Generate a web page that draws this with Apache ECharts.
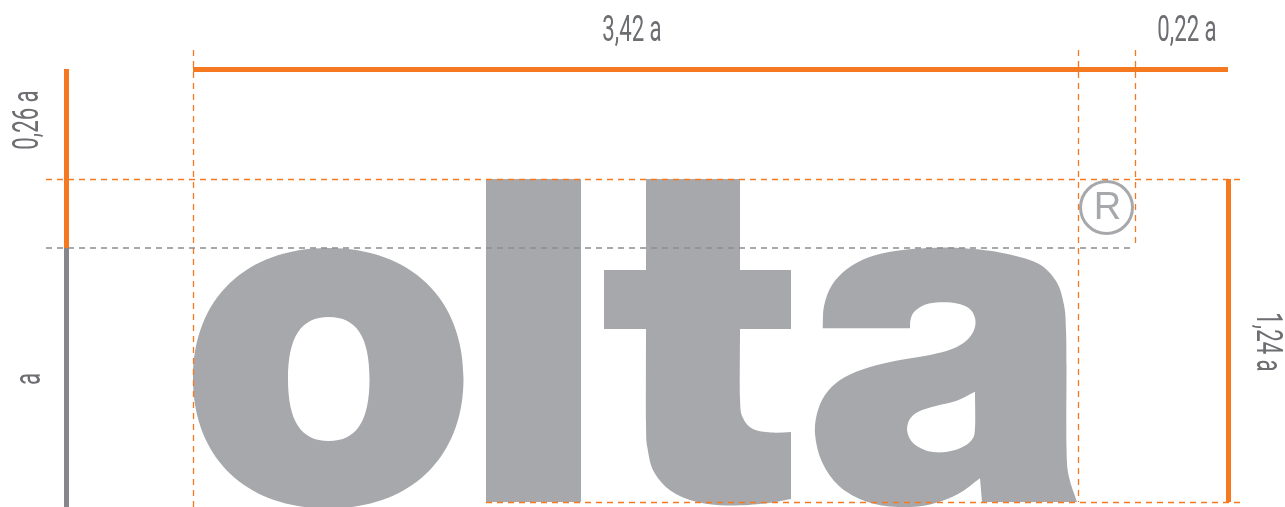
<!DOCTYPE html>
<html><head><meta charset="utf-8">
<script src="https://cdn.jsdelivr.net/npm/echarts@6/dist/echarts.min.js"></script>
<style>html,body{margin:0;padding:0;background:#fff}#c{width:1285px;height:507px}</style>
</head><body><div id="c"></div>
<script>
// ---- dimension labels ----
const dimLabels = ['3,42 a', '0,22 a', '0,26 a', 'a', '1,24 a'];
const dimLabelAt = [[632, 31.5], [1187, 31.5], [28.5, 120], [31, 379], [1266, 342]];
const dimLabelTurn = [0, 0, 90, 90, -90];

// ---- construction lines (segments in drawing units) ----
const solidOrange = [[[193, 69], [1228, 69]], [[66, 69], [66, 248]], [[1228, 179], [1228, 502]]];
const solidGray = [[[66, 248], [66, 507]]];
const dashedOrange = [[[46, 179], [1245, 179]], [[486, 502], [1245, 502]],
  [[193, 50], [193, 507]], [[1078, 50], [1078, 502]], [[1135, 50], [1135, 248]]];
const dashedGray = [[[46, 248], [1135, 248]]];

// ---- registered mark ----
const regMark = { text: 'R', center: [1106.5, 207.5], radius: 26 };

// ---- glyph "o": outer and inner oval boxes [left, top, right, bottom] ----
const glyphOOuter = [193, 248, 463.5, 508.5];
const glyphOInner = [288, 317, 369.5, 441];

// ---- glyph outlines [x, y, sharpCorner] ----
const glyphL = [[[486, 179, 1], [581, 179, 1], [581, 502, 1], [486, 502, 1]]];
const glyphT = [[[646, 179, 1], [740, 179, 1], [740, 270, 1], [791, 270, 1], [791, 329, 1], [740, 329, 1],
  [740, 398, 0], [743, 418, 0], [753, 429, 0], [771, 432.5, 0], [791, 432, 1], [791, 499, 1],
  [765, 503.5, 0], [728, 505.5, 0], [697, 502, 0], [671, 491, 0], [654, 472, 0], [647.5, 448, 0], [646, 422, 0],
  [646, 329, 1], [604, 329, 1], [604, 270, 1], [646, 270, 1]]];
const glyphA = [
  [[822.7, 328.3, 1], [824, 306, 0], [832, 285, 0], [847, 269, 0], [868, 257.5, 0], [895, 251, 0],
   [928, 248, 0], [960, 248, 0], [1000, 252.5, 0], [1037, 263, 0], [1056, 281, 0], [1064, 305, 0],
   [1066, 330, 0], [1066.5, 365, 0], [1066.5, 448, 0], [1069, 477, 0], [1077, 502, 1], [982, 502, 1], [980, 478.3, 1],
   [958, 494, 0], [930, 504.5, 0], [898, 507, 0], [866, 501.5, 0], [839, 486, 0], [822, 462, 0],
   [815, 434, 0], [818, 410, 0], [828, 391, 0], [845, 377, 0], [870, 367, 0], [900, 360, 0],
   [930, 355, 0], [952, 349, 0], [966, 341, 0], [974, 330, 0], [975, 318, 0], [968, 307.5, 0],
   [951, 302.5, 0], [929, 303.5, 0], [915.5, 310.5, 0], [910.7, 319, 0], [910, 328.3, 1]],
  [[975, 391.7, 1], [956.7, 400.7, 0], [936.7, 405.7, 0], [918.3, 411.7, 0], [909.3, 420, 0], [907.3, 431.7, 0],
   [913.3, 443.3, 0], [926.7, 450.7, 0], [943.3, 452.3, 0], [960, 448.3, 0], [971.7, 440, 0], [975, 428, 0]]
];

const ORANGE = '#f47920', GRAYLOGO = '#a7a8ab', TEXT = '#6d6e71';

function f(v) { return v.toFixed(2); }
function contourPath(pts, api) {
  const P = pts.map(p => api.coord([p[0], p[1]]));
  const n = P.length;
  let d = 'M' + f(P[0][0]) + ' ' + f(P[0][1]);
  for (let i = 0; i < n; i++) {
    const a = P[i], b = P[(i + 1) % n], prev = P[(i - 1 + n) % n], next = P[(i + 2) % n];
    const sa = pts[i][2], sb = pts[(i + 1) % n][2];
    if (sa && sb) { d += ' L' + f(b[0]) + ' ' + f(b[1]); continue; }
    const c1 = sa ? [a[0] + (b[0] - a[0]) / 3, a[1] + (b[1] - a[1]) / 3]
                  : [a[0] + (b[0] - prev[0]) / 6, a[1] + (b[1] - prev[1]) / 6];
    const c2 = sb ? [b[0] - (b[0] - a[0]) / 3, b[1] - (b[1] - a[1]) / 3]
                  : [b[0] - (next[0] - a[0]) / 6, b[1] - (next[1] - a[1]) / 6];
    d += ' C' + [c1[0], c1[1], c2[0], c2[1], b[0], b[1]].map(f).join(' ');
  }
  return d + ' Z';
}
// oval (superellipse-like) through box edges; k = control handle ratio; ccw for holes
function ovalPath(box, k, ccw, api) {
  const p0 = api.coord([box[0], box[1]]), p1 = api.coord([box[2], box[3]]);
  const cx = (p0[0] + p1[0]) / 2, cy = (p0[1] + p1[1]) / 2;
  const rx = Math.abs(p1[0] - p0[0]) / 2, ry = Math.abs(p1[1] - p0[1]) / 2;
  const kx = rx * k, ky = ry * k;
  if (!ccw) {
    return 'M' + f(cx) + ' ' + f(cy - ry) +
      ' C' + [cx + kx, cy - ry, cx + rx, cy - ky, cx + rx, cy].map(f).join(' ') +
      ' C' + [cx + rx, cy + ky, cx + kx, cy + ry, cx, cy + ry].map(f).join(' ') +
      ' C' + [cx - kx, cy + ry, cx - rx, cy + ky, cx - rx, cy].map(f).join(' ') +
      ' C' + [cx - rx, cy - ky, cx - kx, cy - ry, cx, cy - ry].map(f).join(' ') + ' Z';
  }
  return 'M' + f(cx) + ' ' + f(cy - ry) +
    ' C' + [cx - kx, cy - ry, cx - rx, cy - ky, cx - rx, cy].map(f).join(' ') +
    ' C' + [cx - rx, cy + ky, cx - kx, cy + ry, cx, cy + ry].map(f).join(' ') +
    ' C' + [cx + kx, cy + ry, cx + rx, cy + ky, cx + rx, cy].map(f).join(' ') +
    ' C' + [cx + rx, cy - ky, cx + kx, cy - ry, cx, cy - ry].map(f).join(' ') + ' Z';
}

const glyphBuilders = [
  api => ovalPath(glyphOOuter, 0.61, false, api) + ' ' + ovalPath(glyphOInner, 0.68, true, api),
  api => glyphL.map(c => contourPath(c, api)).join(' '),
  api => glyphT.map(c => contourPath(c, api)).join(' '),
  api => glyphA.map(c => contourPath(c, api)).join(' ')
];

const chart = echarts.init(document.getElementById('c'), null, { renderer: 'canvas' });
const lineSeries = (segs, color, width, type) => ({
  type: 'lines', coordinateSystem: 'cartesian2d', silent: true,
  data: segs.map(s => ({ coords: s })),
  lineStyle: { color: color, width: width, type: type, opacity: 1, curveness: 0, cap: 'butt' },
  effect: { show: false }
});

chart.setOption({
  animation: false,
  backgroundColor: '#ffffff',
  grid: { left: 0, right: 0, top: 0, bottom: 0, containLabel: false },
  xAxis: { type: 'value', min: 0, max: 1285, show: false },
  yAxis: { type: 'value', min: 0, max: 507, inverse: true, show: false },
  series: [
    {
      type: 'custom', coordinateSystem: 'cartesian2d', silent: true, clip: false,
      data: glyphBuilders.map((g, i) => [i, 0]),
      renderItem: function (params, api) {
        return { type: 'path', shape: { pathData: glyphBuilders[params.dataIndex](api) },
                 style: { fill: GRAYLOGO } };
      }
    },
    {
      type: 'custom', coordinateSystem: 'cartesian2d', silent: true, clip: false,
      data: [[0, 0]],
      renderItem: function (params, api) {
        const c = api.coord(regMark.center);
        const r = api.size([regMark.radius, 0])[0];
        return { type: 'group', children: [
          { type: 'circle', shape: { cx: c[0], cy: c[1], r: r }, style: { fill: 'none', stroke: GRAYLOGO, lineWidth: 3 } },
          { type: 'text', x: c[0] + 1, y: c[1] + 1, style: { text: regMark.text, fill: GRAYLOGO,
            fontFamily: 'Liberation Sans', fontSize: 38, align: 'center', verticalAlign: 'middle' } }
        ] };
      }
    },
    lineSeries(solidOrange, ORANGE, 5, 'solid'),
    lineSeries(solidGray, '#87878b', 5, 'solid'),
    lineSeries(dashedOrange, ORANGE, 1.3, [6, 5]),
    lineSeries(dashedGray, '#8c8d90', 1.5, [6, 5]),
    {
      type: 'custom', coordinateSystem: 'cartesian2d', silent: true, clip: false,
      data: dimLabels.map((t, i) => [i, 0]),
      renderItem: function (params, api) {
        const i = params.dataIndex;
        const p = api.coord(dimLabelAt[i]);
        return { type: 'text', x: p[0], y: p[1], rotation: dimLabelTurn[i] * Math.PI / 180, scaleX: 0.6,
          style: { text: dimLabels[i], fill: TEXT, fontFamily: 'Roboto', fontWeight: 'normal', fontSize: 37,
                   align: 'center', verticalAlign: 'middle' } };
      }
    }
  ]
});
</script></body></html>
